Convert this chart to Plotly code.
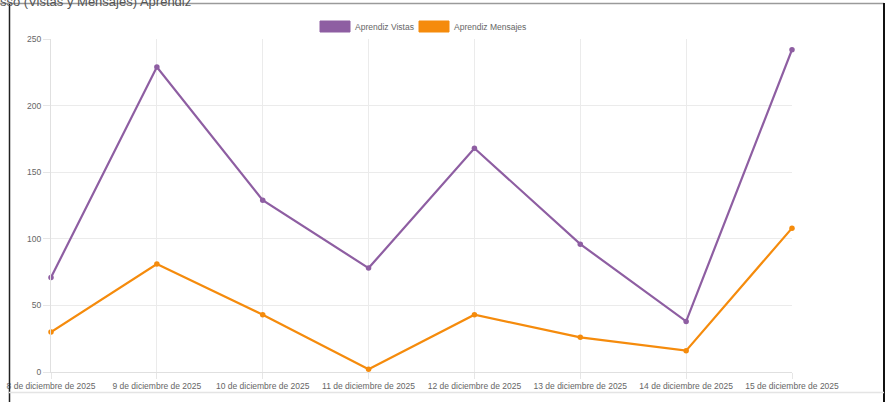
import plotly.graph_objects as go

categories = ["8 de diciembre de 2025", "9 de diciembre de 2025", "10 de diciembre de 2025",
              "11 de diciembre de 2025", "12 de diciembre de 2025", "13 de diciembre de 2025",
              "14 de diciembre de 2025", "15 de diciembre de 2025"]
vistas = [71, 229, 129, 78, 168, 96, 38, 242]
mensajes = [30, 81, 43, 2, 43, 26, 16, 108]
series_names = ["Aprendiz Vistas", "Aprendiz Mensajes"]
series_colors = ["#8e5ea2", "#f58b0c"]
title_text = "sso (Vistas y Mensajes) Aprendiz"

W, H = 891, 402
L, R, T, B = 51, 792, 39, 372

def px(x):
    return (x - L) / (R - L)

def py(y):
    return (B - y) / (B - T)

FONT = "Liberation Sans, Arial, sans-serif"
xs = list(range(len(categories)))

fig = go.Figure()
for name, vals, col in zip(series_names, [vistas, mensajes], series_colors):
    fig.add_trace(go.Scatter(
        x=xs, y=vals, name=name, mode="lines+markers",
        line=dict(color=col, width=2.2),
        marker=dict(color=col, size=5.5),
        showlegend=False, cliponaxis=False,
    ))

shapes = []
annotations = []
# manual legend
leg_x = [320, 419]
for name, col, lx in zip(series_names, series_colors, leg_x):
    shapes.append(dict(type="rect", xref="paper", yref="paper",
                       x0=px(lx), x1=px(lx + 30), y0=py(32), y1=py(21),
                       fillcolor=col, line=dict(color=col, width=1)))
    annotations.append(dict(xref="paper", yref="paper", x=px(lx + 33), y=py(26.5),
                            xanchor="left", yanchor="middle", showarrow=False,
                            text=name, font=dict(family=FONT, size=8.5, color="#666666")))

# page frame
shapes.append(dict(type="line", xref="paper", yref="paper", x0=px(0), x1=px(884),
                   y0=py(3.5), y1=py(3.5), line=dict(color="#9a9a9a", width=1.5)))
shapes.append(dict(type="line", xref="paper", yref="paper", x0=px(884), x1=px(884),
                   y0=py(3), y1=py(402), line=dict(color="#111111", width=2)))
shapes.append(dict(type="line", xref="paper", yref="paper", x0=px(9.5), x1=px(9.5),
                   y0=py(4), y1=py(402), line=dict(color="#222222", width=1.5)))
shapes.append(dict(type="line", xref="paper", yref="paper", x0=px(9), x1=px(884),
                   y0=py(392.5), y1=py(392.5), line=dict(color="#e4e4e4", width=1.5)))

# clipped title
annotations.append(dict(xref="paper", yref="paper", x=px(-2), y=py(2),
                        xanchor="left", yanchor="middle", showarrow=False,
                        text=title_text, font=dict(family=FONT, size=13, color="#555555")))

fig.update_layout(
    width=W, height=H,
    margin=dict(l=L, r=W - R, t=T, b=H - B, pad=0, autoexpand=False),
    paper_bgcolor="white", plot_bgcolor="white",
    font=dict(family=FONT, size=8.5, color="#666666"),
    shapes=shapes, annotations=annotations,
    xaxis=dict(range=[0, len(categories) - 1], tickmode="array", tickvals=xs,
               ticktext=categories, showgrid=True, gridcolor="#ebebeb", gridwidth=1,
               zeroline=False, showline=True, linecolor="#e0e0e0", linewidth=1,
               ticks="outside", ticklen=6, tickcolor="#e6e6e6", automargin=False,
               tickfont=dict(family=FONT, size=8.5, color="#666666"), fixedrange=True),
    yaxis=dict(range=[0, 250], tickmode="array", tickvals=[0, 50, 100, 150, 200, 250],
               showgrid=True, gridcolor="#ebebeb", gridwidth=1, zeroline=False,
               showline=True, linecolor="#e0e0e0", linewidth=1, automargin=False,
               ticks="outside", ticklen=7, tickcolor="#e6e6e6",
               tickfont=dict(family=FONT, size=8.5, color="#666666"), fixedrange=True),
    showlegend=False,
)

fig.write_html("out.html", config={"displayModeBar": False},
               post_script="document.body.style.margin='0';document.body.style.overflow='hidden';")
